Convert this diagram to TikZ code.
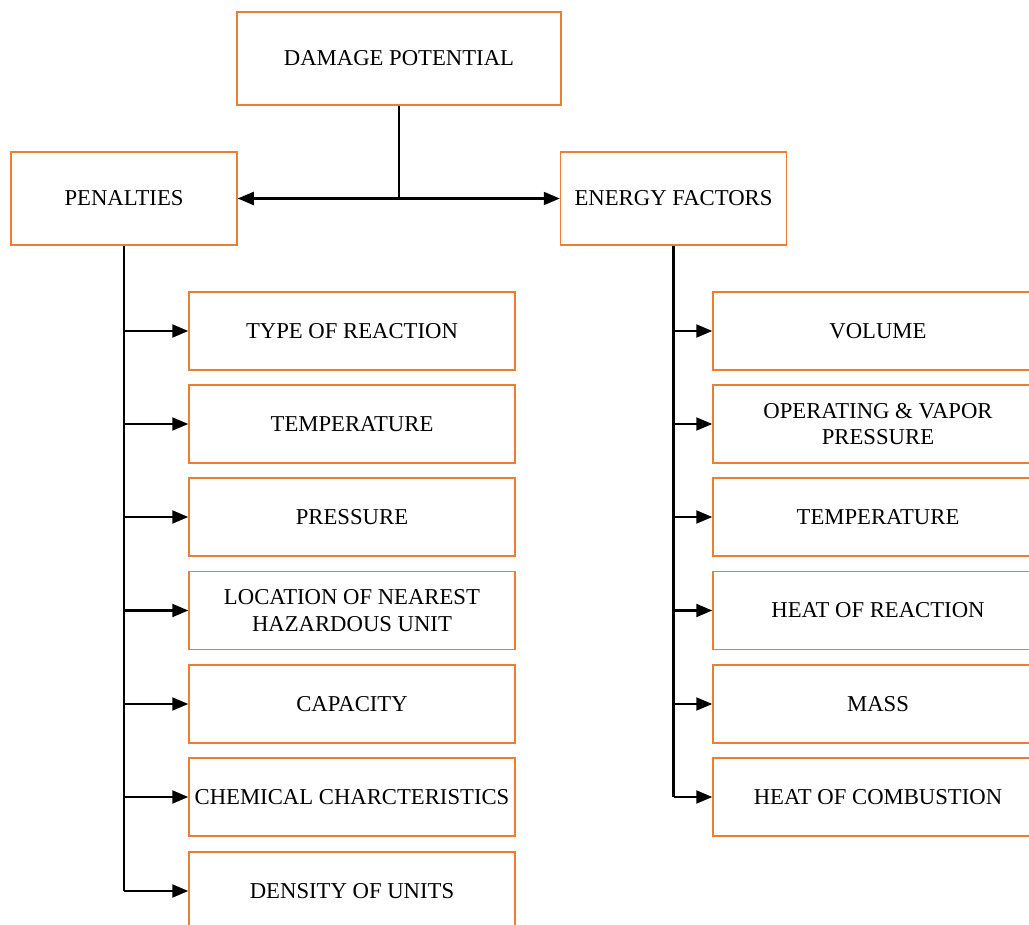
\documentclass[tikz,border=0pt]{standalone}
\usepackage{fontspec}
\setmainfont{Liberation Serif}
\usetikzlibrary{arrows.meta}
\definecolor{boxorange}{RGB}{237,125,49}
\tikzset{
  box/.style={draw=boxorange, line width=1.5pt, fill=white, align=center,
    font=\fontsize{22.7}{26.5}\selectfont, inner sep=0pt},
  topbox/.style={box, minimum width=324pt, minimum height=93pt},
  midbox/.style={box, minimum width=226pt, minimum height=93pt},
  leftitem/.style={box, minimum width=326pt, minimum height=78pt},
  rightitem/.style={box, minimum width=330pt, minimum height=78pt},
  conn/.style={draw=black, line width=2.2pt},
  arr/.style={conn, -{Triangle[length=16pt,width=13pt]}},
}
\begin{document}
\begin{tikzpicture}[x=1pt,y=-1pt]
  \useasboundingbox (0,0) rectangle (1029,925);
  \clip (0,0) rectangle (1029,925);

  % top level and the two branches
  \node[topbox] (dp)  at (399,58.5)   {DAMAGE POTENTIAL};
  \node[midbox] (pen) at (124,198.5)  {PENALTIES};
  \node[midbox] (en)  at (673.5,198.5) {ENERGY FACTORS};

  % penalty items
  \node[leftitem] (l1) at (352,331)   {TYPE OF REACTION};
  \node[leftitem] (l2) at (352,424)   {TEMPERATURE};
  \node[leftitem] (l3) at (352,517)   {PRESSURE};
  \node[leftitem] (l4) at (352,610.5) {LOCATION OF NEAREST\\HAZARDOUS UNIT};
  \node[leftitem] (l5) at (352,704)   {CAPACITY};
  \node[leftitem] (l6) at (352,797)   {CHEMICAL CHARCTERISTICS};
  \node[leftitem] (l7) at (352,891)   {DENSITY OF UNITS};

  % energy factor items
  \node[rightitem] (r1) at (878,331)   {VOLUME};
  \node[rightitem] (r2) at (878,424)   {OPERATING \& VAPOR\\PRESSURE};
  \node[rightitem] (r3) at (878,517)   {TEMPERATURE};
  \node[rightitem] (r4) at (878,610.5) {HEAT OF REACTION};
  \node[rightitem] (r5) at (878,704)   {MASS};
  \node[rightitem] (r6) at (878,797)   {HEAT OF COMBUSTION};

  % split from the top box
  \draw[conn] (dp.south) -- (dp.south |- pen.east) coordinate (split);
  \draw[arr] (split) -- (pen.east);
  \draw[arr] (split) -- (en.west);

  % penalty trunk and branches
  \draw[conn] (pen.south) -- (pen.south |- l7.west);
  \foreach \n in {l1,l2,l3,l4,l5,l6,l7}
    \draw[arr] (pen.south |- \n.west) -- (\n.west);

  % energy trunk and branches
  \draw[conn] (en.south) -- (en.south |- r6.west);
  \foreach \n in {r1,r2,r3,r4,r5,r6}
    \draw[arr] (en.south |- \n.west) -- (\n.west);
\end{tikzpicture}
\end{document}
